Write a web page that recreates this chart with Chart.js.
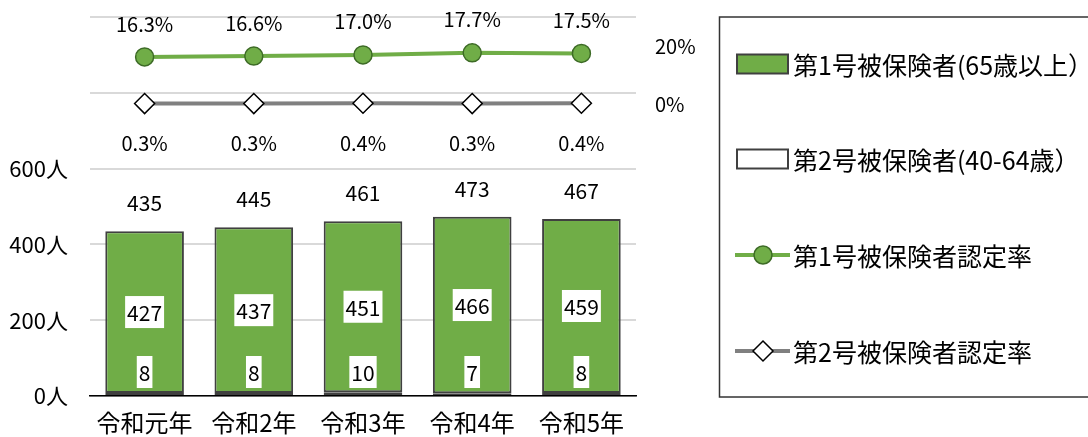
<!DOCTYPE html>
<html>
<head>
<meta charset="utf-8">
<script src="https://cdn.jsdelivr.net/npm/chart.js@4"></script>
<style>
  html, body { margin: 0; padding: 0; background: #fff; }
  #wrap { width: 1088px; height: 437px; }
</style>
</head>
<body>
<div id="wrap"><canvas id="chart" width="1088" height="437"></canvas></div>
<script>
// ── data ──
const categories = ['令和元年', '令和2年', '令和3年', '令和4年', '令和5年'];
const type1Count = [427, 437, 451, 466, 459];   // 第1号被保険者
const type2Count = [8, 8, 10, 7, 8];            // 第2号被保険者
const type1Rate = [16.3, 16.6, 17.0, 17.7, 17.5];
const type2Rate = [0.3, 0.3, 0.4, 0.3, 0.4];
const countTicks = [0, 200, 400, 600];
const rateTicks = [0, 20];

const legendLabels = ['第1号被保険者(65歳以上）', '第2号被保険者(40-64歳）', '第1号被保険者認定率', '第2号被保険者認定率'];

const FONT = '"Noto Sans CJK JP", "Noto Sans", sans-serif';
const GREEN = '#70ad47', GREEN_DARK = '#3d6b26', EDGE = '#404040', GRAY = '#808080';

// ── labels on bars / points ──
const labelPlugin = {
  id: 'valueLabels',
  afterDatasetsDraw(chart) {
    const ctx = chart.ctx;
    const yScale = chart.scales.y;
    const m2 = chart.getDatasetMeta(0), m1 = chart.getDatasetMeta(1);
    const r1 = chart.getDatasetMeta(2), r2 = chart.getDatasetMeta(3);
    ctx.save();
    ctx.textAlign = 'center';
    ctx.textBaseline = 'middle';
    const boxed = (txt, x, y) => {
      const w = ctx.measureText(txt).width + 4;
      ctx.fillStyle = '#fff';
      ctx.fillRect(x - w / 2, y - 16, w, 32);
      ctx.fillStyle = '#000';
      ctx.fillText(txt, x, y + 1);
    };
    categories.forEach((_, i) => {
      const b1 = m1.data[i], b2 = m2.data[i];
      ctx.font = '21px ' + FONT;
      boxed(String(type1Count[i]), b1.x, (b1.y + b1.base) / 2);
      boxed(String(type2Count[i]), b2.x, b2.base - 23);
      const total = type1Count[i] + type2Count[i];
      ctx.fillStyle = '#000';
      ctx.fillText(String(total), b1.x, yScale.getPixelForValue(total) - 28);
      ctx.font = '20px ' + FONT;
      ctx.fillText(type1Rate[i].toFixed(1) + '%', r1.data[i].x, r1.data[i].y - 33);
      ctx.fillText(type2Rate[i].toFixed(1) + '%', r2.data[i].x, r2.data[i].y + 40);
    });
    ctx.restore();
  }
};

// ── legend box on the right ──
const legendPlugin = {
  id: 'boxLegend',
  afterDraw(chart) {
    const ctx = chart.ctx;
    const rows = [64, 159, 255, 351];
    ctx.save();
    ctx.strokeStyle = '#333';
    ctx.lineWidth = 1.5;
    ctx.strokeRect(719.5, 17, 400, 380);

    // bar swatches
    ctx.lineWidth = 2;
    ctx.strokeStyle = EDGE;
    ctx.fillStyle = GREEN;
    ctx.fillRect(737, rows[0] - 9.5, 51, 19);
    ctx.strokeRect(737, rows[0] - 9.5, 51, 19);
    ctx.fillStyle = '#fff';
    ctx.fillRect(737, rows[1] - 9.5, 51, 19);
    ctx.strokeRect(737, rows[1] - 9.5, 51, 19);

    // line swatches
    const lineSwatch = (y, color) => {
      ctx.strokeStyle = color;
      ctx.lineWidth = 4;
      ctx.beginPath(); ctx.moveTo(735, y); ctx.lineTo(790, y); ctx.stroke();
    };
    lineSwatch(rows[2], GREEN);
    ctx.beginPath(); ctx.arc(763, rows[2], 9, 0, Math.PI * 2);
    ctx.fillStyle = GREEN; ctx.fill();
    ctx.lineWidth = 1.5; ctx.strokeStyle = GREEN_DARK; ctx.stroke();
    lineSwatch(rows[3], GRAY);
    ctx.beginPath();
    ctx.moveTo(763, rows[3] - 10); ctx.lineTo(773, rows[3]); ctx.lineTo(763, rows[3] + 10); ctx.lineTo(753, rows[3]);
    ctx.closePath();
    ctx.fillStyle = '#fff'; ctx.fill();
    ctx.lineWidth = 1.5; ctx.strokeStyle = '#000'; ctx.stroke();

    ctx.font = '25px ' + FONT;
    ctx.fillStyle = '#000';
    ctx.textAlign = 'left';
    ctx.textBaseline = 'middle';
    legendLabels.forEach((t, i) => ctx.fillText(t, 793, rows[i] + 1));
    ctx.restore();
  }
};

new Chart(document.getElementById('chart'), {
  data: {
    labels: categories,
    datasets: [
      { type: 'bar', label: legendLabels[1], data: type2Count, backgroundColor: '#ffffff', borderColor: EDGE,
        borderWidth: 2, borderSkipped: false, yAxisID: 'y', order: 2, barPercentage: 0.72, categoryPercentage: 1 },
      { type: 'bar', label: legendLabels[0], data: type1Count, backgroundColor: GREEN, borderColor: EDGE,
        borderWidth: 2, borderSkipped: false, yAxisID: 'y', order: 2, barPercentage: 0.72, categoryPercentage: 1 },
      { type: 'line', label: legendLabels[2], data: type1Rate, yAxisID: 'y1', order: 1,
        borderColor: GREEN, borderWidth: 4, pointRadius: 9, pointBackgroundColor: GREEN,
        pointBorderColor: GREEN_DARK, pointBorderWidth: 1.5 },
      { type: 'line', label: legendLabels[3], data: type2Rate, yAxisID: 'y1', order: 1,
        borderColor: GRAY, borderWidth: 4, pointStyle: 'rectRot', pointRadius: 10, pointBackgroundColor: '#fff',
        pointBorderColor: '#000', pointBorderWidth: 1.5 }
    ]
  },
  options: {
    responsive: false,
    animation: false,
    layout: { padding: { top: 17, right: 372, left: 0, bottom: 0 } },
    plugins: { legend: { display: false }, tooltip: { enabled: false } },
    scales: {
      x: {
        stacked: true,
        grid: { display: false },
        border: { display: true, color: '#000', width: 1.5 },
        ticks: { color: '#000', font: { family: FONT, size: 24 }, padding: 4 },
        afterFit: s => { s.height = 41; }
      },
      y: {
        stacked: true,
        min: 0, max: 1000,
        // tick gap comes from an invisible tick mark so it does not pad the top
        grid: { color: '#d9d9d9', lineWidth: 2, drawTicks: true, tickLength: 22, tickColor: 'rgba(0,0,0,0)' },
        border: { display: false },
        ticks: {
          stepSize: 200, padding: 0, color: '#000', font: { family: FONT, size: 22 },
          callback: v => countTicks.includes(v) ? v + '人' : ''
        },
        afterFit: s => { s.width = 90; }
      },
      y1: {
        position: 'right',
        min: -100, max: 30,
        grid: { display: false, drawTicks: true, tickLength: 19 },
        border: { display: false },
        ticks: {
          stepSize: 20, padding: 0, color: '#000', font: { family: FONT, size: 20 },
          callback: v => rateTicks.includes(v) ? v + '%' : ''
        },
        afterFit: s => { s.width = 80; }
      }
    }
  },
  plugins: [labelPlugin, legendPlugin]
});
</script>
</body>
</html>
